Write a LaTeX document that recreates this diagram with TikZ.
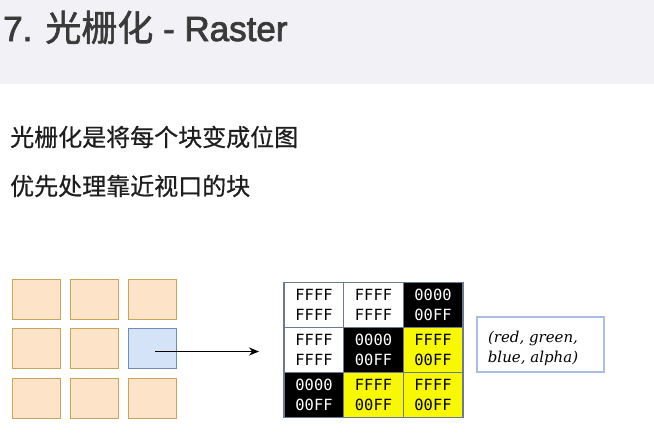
\documentclass[tikz,border=0pt]{standalone}
\usepackage{fontspec}
\setmainfont{Liberation Sans}
\newfontfamily\cjk{Noto Sans CJK SC}
\newfontfamily\titlelat[FakeBold=2.2]{Liberation Sans}
\newfontfamily\titlecjk[FakeBold=1.6]{Noto Sans CJK SC}
\newfontfamily\bodycjk[FakeBold=0.6]{Noto Sans CJK SC}
\newfontfamily\monof{DejaVu Sans Mono}
\newfontfamily\serifit{DejaVu Serif}
\usetikzlibrary{arrows.meta}
\definecolor{headbg}{HTML}{F2F1F6}
\definecolor{titlec}{HTML}{3A3A3A}
\definecolor{bodyc}{HTML}{1E1E1E}
\definecolor{blkfill}{HTML}{FDE3C8}
\definecolor{blkdraw}{HTML}{C9A55A}
\definecolor{bluefill}{HTML}{D4E3F8}
\definecolor{bluedraw}{HTML}{6F8DB3}
\definecolor{gridc}{HTML}{6B7A8F}
\definecolor{yel}{HTML}{F8F800}
\definecolor{notec}{HTML}{A9BEE3}
\tikzset{
  blk/.style={draw=blkdraw, fill=blkfill, line width=0.9pt, minimum width=48pt, minimum height=40pt, inner sep=0pt},
  blkhi/.style={blk, draw=bluedraw, fill=bluefill},
  cell/.style={draw=gridc, line width=0.8pt, minimum width=59.5pt, minimum height=45pt, inner sep=0pt, align=center,
    font=\monof\fontsize{15.4}{20}\selectfont},
  wcell/.style={cell, fill=white, text=black},
  kcell/.style={cell, fill=black, text=white},
  ycell/.style={cell, fill=yel, text=black},
  bodytext/.style={anchor=west, inner sep=0pt, text=bodyc, font=\bodycjk\fontsize{24}{28}\selectfont},
}
\begin{document}
\begin{tikzpicture}[x=1pt,y=-1pt]
\useasboundingbox (0,0) rectangle (654,440);
\fill[white] (0,0) rectangle (654,440);
\fill[headbg] (0,0) rectangle (654,84);
\node[anchor=base west, inner sep=0pt, text=titlec, font=\titlelat\fontsize{35}{40}\selectfont] (title) at (3,41) {7. {\titlecjk\fontsize{36}{40}\selectfont 光栅化} - Raster};
\node[bodytext] (l1) at (10,137) {光栅化是将每个块变成位图};
\node[bodytext] (l2) at (10,186) {优先处理靠近视口的块};
% left tiles
\node[blk] (b11) at (36,299) {};
\node[blk] (b12) at (94,299) {};
\node[blk] (b13) at (152,299) {};
\node[blk] (b21) at (36,348.5) {};
\node[blk] (b22) at (94,348.5) {};
\node[blkhi] (b23) at (152,348.5) {};
\node[blk] (b31) at (36,398) {};
\node[blk] (b32) at (94,398) {};
\node[blk] (b33) at (152,398) {};
\coordinate (aend) at (259,351.5);
\draw[-{Stealth[length=10pt,width=8pt]}, line width=0.8pt] ([xshift=3pt,yshift=-3pt]b23.center) -- (aend);
% right grid
\node[wcell] (c11) at (314,305) {FFFF\\FFFF};
\node[wcell] (c12) at (373.5,305) {FFFF\\FFFF};
\node[kcell] (c13) at (433,305) {0000\\00FF};
\node[wcell] (c21) at (314,350) {FFFF\\FFFF};
\node[kcell] (c22) at (373.5,350) {0000\\00FF};
\node[ycell] (c23) at (433,350) {FFFF\\00FF};
\node[kcell] (c31) at (314,395) {0000\\00FF};
\node[ycell] (c32) at (373.5,395) {FFFF\\00FF};
\node[ycell] (c33) at (433,395) {FFFF\\00FF};
\draw[gridc, line width=1pt] (c11.north west) rectangle (c33.south east);
% note box
\node[draw=notec, line width=1.5pt, minimum width=127pt, minimum height=55pt, inner sep=0pt] (note) at (540.5,344.5) {};
\node[align=center, inner sep=0pt, font=\serifit\itshape\fontsize{15}{20}\selectfont] (notetext) at (533,348) {(red, green,\\blue, alpha)};
\end{tikzpicture}
\end{document}
